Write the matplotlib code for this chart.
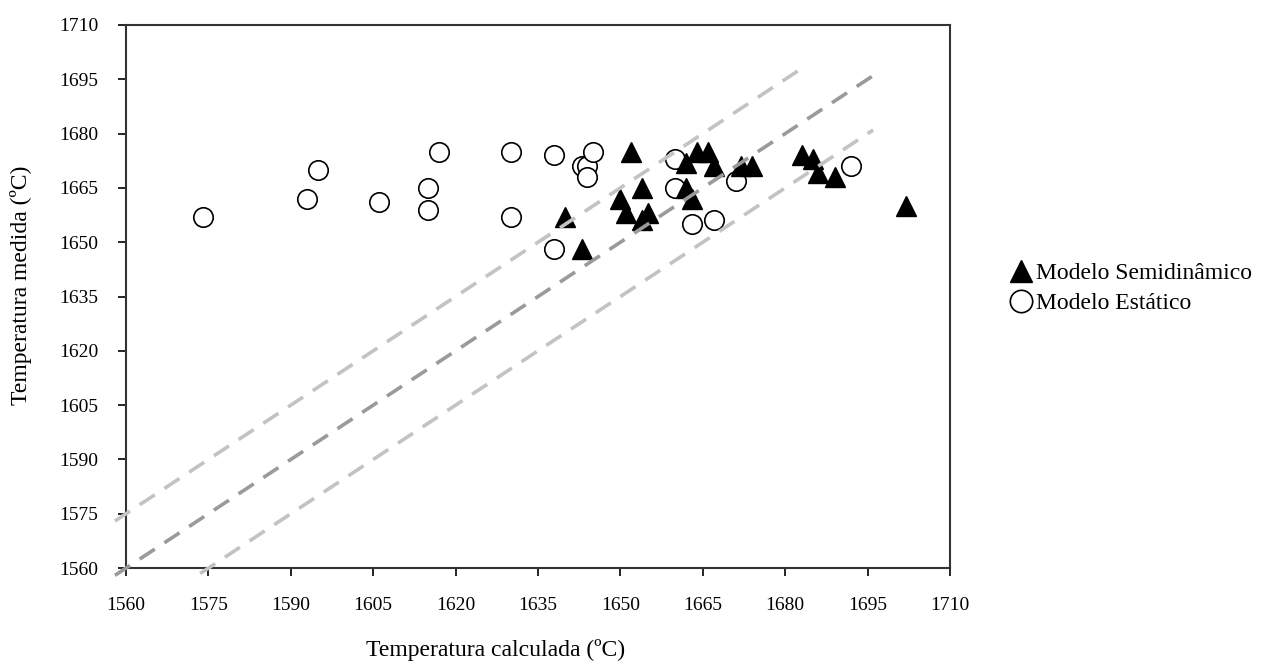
import numpy as np
import matplotlib
matplotlib.use("Agg")
import matplotlib.pyplot as plt

plt.rcParams['font.family'] = ['Liberation Serif', 'DejaVu Serif']

# Modelo Estatico (circulos)
est_calc = [1574, 1593, 1595, 1606, 1615, 1615, 1617, 1630, 1630, 1638, 1643,
            1644, 1644, 1645, 1638, 1660, 1660, 1663, 1667, 1671, 1692]
est_med = [1657, 1662, 1670, 1661, 1665, 1659, 1675, 1675, 1657, 1674, 1671,
           1671, 1668, 1675, 1648, 1673, 1665, 1655, 1656, 1667, 1671]

# Modelo Semidinamico (triangulos)
semi_calc = [1640, 1643, 1652, 1650, 1651, 1654, 1654, 1655, 1662, 1662, 1663,
             1664, 1666, 1667, 1672, 1674, 1683, 1685, 1686, 1689, 1702]
semi_med = [1657, 1648, 1675, 1662, 1658, 1665, 1656, 1658, 1672, 1665, 1662,
            1675, 1675, 1671, 1671, 1671, 1674, 1673, 1669, 1668, 1660]

# linhas de referencia y = x + desvio
desvios = [15, 0, -15]
linha_x0 = [1558, 1558, 1573.5]
linha_x1 = [1683.5, 1696, 1696]
linha_cor = ['#c3c3c3', '#9a9a9a', '#c3c3c3']

ticks = np.arange(1560, 1711, 15)

fig = plt.figure(figsize=(12.88, 6.66), dpi=100)
ax = fig.add_axes([0.0978, 0.147, 0.6398, 0.8155])

ax.plot(est_calc, est_med, linestyle='none', marker='o', markersize=14,
        markerfacecolor='white', markeredgecolor='black', markeredgewidth=1.2,
        label='Modelo Estático', zorder=2)
ax.plot(semi_calc, semi_med, linestyle='none', marker='^', markersize=14,
        color='black', label='Modelo Semidinâmico', zorder=3)

for d, a, b, c in zip(desvios, linha_x0, linha_x1, linha_cor):
    xs = np.array([a, b])
    ax.plot(xs, xs + d, color=c, linewidth=2.6, dashes=(5, 3.2),
            clip_on=False, zorder=4)

ax.set_xlim(1560, 1710)
ax.set_ylim(1560, 1710)
ax.set_xticks(ticks)
ax.set_yticks(ticks)
ax.tick_params(direction='out', length=6, width=1.2, labelsize=14,
               top=False, right=False)
ax.tick_params(axis='x', pad=15)
ax.tick_params(axis='y', pad=14)
for s in ax.spines.values():
    s.set_linewidth(1.5)
    s.set_color('#333333')

ax.set_xlabel('Temperatura calculada (ºC)', fontsize=17)
ax.set_ylabel('Temperatura medida (ºC)', fontsize=17)
ax.xaxis.set_label_coords(0.448, -0.13)
ax.yaxis.set_label_coords(-0.114, 0.52)

h, l = ax.get_legend_handles_labels()
ax.legend(h[::-1], l[::-1], loc='center left', bbox_to_anchor=(1.07, 0.515),
          frameon=False, fontsize=17, handletextpad=0.1, handlelength=1.1,
          labelspacing=0.35, borderaxespad=0, borderpad=0, markerscale=1.15)

fig.savefig('out.png', dpi=100)
